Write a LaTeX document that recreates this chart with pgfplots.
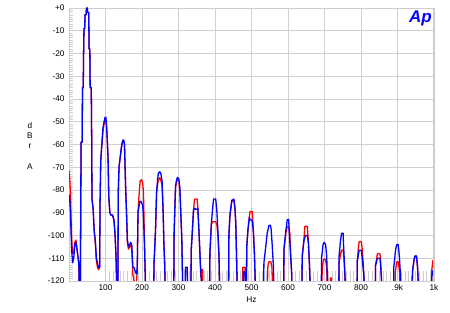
\documentclass[border=0pt]{standalone}
\usepackage{fontspec}
\setmainfont{Liberation Sans}
\usepackage{pgfplots}
\pgfplotsset{compat=1.18}
\definecolor{apred}{RGB}{255,0,0}
\definecolor{apblue}{RGB}{0,0,255}
\definecolor{gridgray}{RGB}{208,208,208}
\definecolor{tickgray}{RGB}{205,205,205}
\begin{document}
\begin{tikzpicture}
\useasboundingbox (0,0) rectangle (450bp,313bp);
\begin{axis}[
  at={(69bp,32bp)}, anchor=south west,
  scale only axis, width=365bp, height=273bp,
  xmin=0, xmax=1000, ymin=-120, ymax=0,
  axis on top=false,
  xtick={100,200,300,400,500,600,700,800,900,1000},
  xticklabels={100,200,300,400,500,600,700,800,.9k,1k},
  ytick={0,-10,-20,-30,-40,-50,-60,-70,-80,-90,-100,-110,-120},
  yticklabels={+0,-10,-20,-30,-40,-50,-60,-70,-80,-90,-100,-110,-120},
  minor x tick num=9,
  extra y ticks={-119,-118,...,-1},
  extra y tick labels={},
  extra y tick style={grid=none, major tick length=4bp, tick style={tickgray, line width=0.6bp}},
  tick pos=left, tick align=inside,
  major tick length=0pt,
  minor tick length=10bp,
  minor tick style={tickgray, line width=0.6bp},
  grid=major,
  major grid style={gridgray, line width=0.7bp},
  axis line style={tickgray, line width=0.8bp},
  tick label style={font=\fontsize{8.3}{9}\selectfont},
  xticklabel style={yshift=0bp},
  yticklabel style={xshift=-1bp},
  xlabel={Hz}, xlabel style={font=\fontsize{8.3}{9}\selectfont, yshift=1bp},
  clip=true,
]
\addplot[apred, line width=1.3bp, line join=round] coordinates {
(0,-71.5) (2,-75) (4,-82) (6,-95) (8,-104) (10,-108) (13,-107) (16,-103) (19,-102) (22,-106) (25,-110) (27,-113) (28,-125)
(31,-125) (32,-95) (33,-59) (36,-59) (37,-35) (39,-35) (40,-20) (41,-9) (43,-9) (44,-3) (47,-3) (48,0) (50,0) (51,-2) (54,-2) (55,-18) (57,-18) (58,-35) (61,-35) (62,-55)
(63,-84) (66,-88) (69,-98) (72,-103) (75,-111) (78,-114) (81,-115) (84,-114) (85,-87) (87,-67) (90,-60) (93,-54) (96,-51) (99,-49) (101,-49) (102,-50) (104,-55) (107,-66) (109,-83)
(112,-90) (115,-91) (119,-91) (123,-93) (126,-99) (129,-110) (131,-125)
(134,-125) (135,-81) (137,-70) (140,-66) (143,-62) (146,-59) (148,-58.5) (150,-58.5) (152,-60) (153,-66) (155,-78) (158,-92) (160,-103) (163,-106) (166,-105) (169,-104) (172,-106) (175,-117) (178,-120) (182,-121) (185,-120) (187,-116)
(189,-90) (192,-82) (195,-76) (199,-75.5) (202,-77) (204,-81) (207,-105) (210,-125)
(232,-125) (233,-112) (235,-105) (237,-98) (240,-81) (244,-76) (249,-74.5) (252,-76) (255,-78) (258,-90) (260,-103.5) (262,-112) (264,-125)
(287,-125) (288,-99) (290,-88) (292,-79) (295,-76) (297,-75.5) (301,-76) (304,-80) (306,-89) (309,-101) (311,-118) (312,-125)
(334,-125) (335,-106) (338,-98) (341,-89) (344,-84) (351,-84) (353,-88) (356,-98) (359,-109) (361,-118) (362,-115) (366,-115) (367,-125)
(385,-125) (386,-108) (390,-95) (393,-94) (396,-94) (402,-94) (405,-95) (408,-100) (411,-109) (413,-125)
(437,-125) (438,-100) (441,-91) (446,-85) (452,-84.7) (455,-89) (457,-95) (459,-109) (461,-125)
(475,-125) (476,-114) (482,-114) (484,-125)
(486,-125) (487,-105) (490,-98) (494,-92) (496,-89.5) (502,-89.5) (505,-97.6) (508,-108) (511,-125)
(543,-125) (545,-113) (548,-111.5) (553,-111.5) (556,-114) (558,-125)
(588,-125) (589,-106) (594,-99) (598,-96) (603,-96.4) (605,-99) (607,-108) (610,-116.5) (611,-125)
(638,-125) (639,-109) (644,-101) (646,-96) (653,-96) (656,-103.5) (659,-113.5) (661,-125)
(692,-125) (694,-114) (697,-110.5) (703,-110.5) (706,-114) (708,-125)
(715,-125) (716,-118.7) (719,-118.7) (720,-125)
(739,-125) (740,-112) (744,-108) (747,-106.4) (751,-106.4) (753,-109) (755,-115) (757,-125)
(789,-125) (790,-111) (793,-105) (795,-102.7) (801,-102.7) (804,-107) (807,-115) (809,-125)
(839,-125) (840,-113) (845,-108) (852,-108) (854,-112) (858,-125)
(893,-125) (894,-116) (898,-111.6) (902,-111.6) (905,-115) (907,-125)
(940,-125) (941,-116) (945,-111) (948,-109) (952,-109) (955,-114) (958,-125)
(993,-125) (994,-115) (997,-111) (1000,-111)
};
\addplot[apblue, line width=1.3bp, line join=round] coordinates {
(0,-82) (2,-84) (4,-90) (6,-100) (8,-108) (10,-112) (13,-110) (16,-104) (19,-103) (22,-106) (25,-110) (27,-112) (28,-125)
(31,-125) (32,-95) (33,-59) (36,-59) (37,-35) (39,-35) (40,-20) (41,-9) (43,-9) (44,-3) (47,-3) (48,0) (50,0) (51,-2) (54,-2) (55,-18) (57,-18) (58,-35) (61,-35) (62,-55)
(63,-84) (66,-88) (69,-98) (72,-102) (75,-110) (78,-112) (81,-114) (84,-114) (85,-87) (87,-67) (90,-60) (93,-53) (96,-50) (99,-48) (101,-48) (102,-50) (104,-55) (107,-66) (109,-83)
(112,-90) (115,-91) (119,-91) (123,-93) (126,-99) (129,-110) (131,-125)
(134,-125) (135,-81) (137,-70) (140,-66) (143,-62) (146,-59) (148,-58) (150,-58) (152,-60) (153,-66) (155,-78) (158,-92) (160,-102) (163,-105) (166,-104) (169,-103) (172,-104) (175,-114) (178,-114) (182,-116) (185,-117) (187,-114)
(189,-90) (192,-87) (194,-85) (197,-85) (200,-86) (202,-87) (204,-92) (207,-105) (210,-125)
(232,-125) (233,-112) (235,-105) (237,-98) (240,-81) (243,-75) (245,-72.5) (249,-72) (252,-73) (255,-76) (258,-90) (260,-103.5) (262,-112) (264,-125)
(287,-125) (288,-99) (290,-88) (292,-78) (295,-75.5) (297,-74.5) (301,-75) (304,-80) (306,-89) (309,-101) (311,-118) (312,-125)
(318,-125) (319,-114) (324,-114) (325,-125)
(334,-125) (335,-106) (338,-98) (341,-89) (345,-88) (347,-88.5) (351,-88.5) (353,-88) (356,-98) (359,-109) (362,-118) (363,-125)
(385,-125) (386,-108) (390,-95) (393,-89) (396,-84) (402,-84) (405,-89) (408,-98) (411,-109) (413,-125)
(437,-125) (438,-100) (441,-91) (446,-84.5) (452,-84) (455,-88.5) (457,-95) (459,-109) (461,-125)
(476,-125) (478,-116) (482,-116) (484,-125)
(486,-125) (487,-105) (490,-98) (494,-92) (496,-93) (502,-93.5) (505,-98) (508,-108) (511,-125)
(533,-125) (534,-112) (539,-105) (543,-99) (548,-95.5) (552,-95.5) (554,-97.5) (557,-105) (560,-113.5) (562,-125)
(588,-125) (589,-106) (594,-98) (598,-93) (602,-93) (603,-97.5) (607,-108) (610,-116.5) (611,-125)
(638,-125) (639,-109) (644,-102) (648,-100) (653,-100) (656,-103.5) (659,-113.5) (661,-125)
(691,-125) (692,-110) (696,-104) (699,-103) (703,-104) (706,-109) (709,-125)
(739,-125) (740,-109) (744,-102) (747,-99) (751,-99) (752,-103.5) (755,-113.7) (758,-125)
(789,-125) (790,-111) (795,-106.5) (801,-106.5) (804,-111) (808,-118) (810,-125)
(839,-125) (840,-113) (845,-110) (852,-110) (854,-113.6) (858,-125)
(889,-125) (890,-113.7) (895,-106) (898,-104) (902,-104) (905,-109) (908,-117) (910,-125)
(940,-125) (941,-116) (945,-111) (948,-109) (952,-109) (955,-114) (958,-125)
(993,-125) (994,-118) (997,-115.5) (1000,-115.5)
};
\draw[tickgray, line width=1.8bp] (rel axis cs:1,0) -- (rel axis cs:1,1);
\node[anchor=north east, inner sep=0pt, text=apblue,
      font=\fontsize{17}{17}\selectfont\bfseries\itshape]
      at (rel axis cs:1,1) [xshift=-2bp, yshift=-3bp] {Ap};
\end{axis}
\node[align=center, font=\fontsize{8.3}{10.5}\selectfont] at (30bp,167bp) {d\\B\\r\\\mbox{}\\A};
\end{tikzpicture}
\end{document}
